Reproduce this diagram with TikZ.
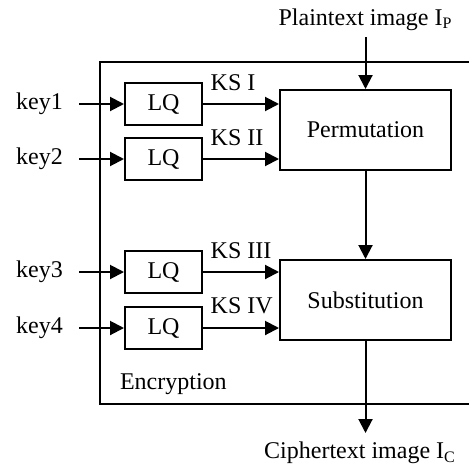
\documentclass[tikz,border=0pt]{standalone}
\usepackage{fontspec}
\setmainfont{Liberation Serif}
\usepackage{tikz}
\usetikzlibrary{positioning, arrows.meta, calc}

\begin{document}
\begin{tikzpicture}[x=0.5pt, y=-0.5pt, font=\fontsize{12}{14}\selectfont,
        blk/.style={draw, line width=1pt, minimum width=85.5pt, minimum height=40pt},
        lq/.style={draw, line width=1pt, minimum width=38.5pt, minimum height=21pt},
        keylab/.style={inner xsep=8pt},
        arr/.style={line width=1pt, -{Triangle[length=7pt, width=7pt]}}]
        \useasboundingbox (0,0) rectangle (469,465);

        % Encryption frame
        \draw[line width=1pt] (100,62) rectangle (474,404);
        \coordinate (encsw) at (100,404);
        \node[anchor=south west, xshift=6.5pt, yshift=1pt] (enclab) at (encsw) {Encryption};

        % Main blocks
        \node[blk] (perm) at (365.5,130) {Permutation};
        \node[blk] (subst) at (365.5,300) {Substitution};

        % Keys and LQ blocks
        \foreach \i/\y in {1/104, 2/159, 3/272, 4/328} {
            \node[lq] (lq\i) at (163.5,\y) {LQ};
            \node[keylab] (key\i) at (39.5,\y) {key\i};
            \draw[arr] (key\i) -- (lq\i);
        }

        % Key streams
        \foreach \i/\ks/\dst in {1/I/perm, 2/II/perm, 3/III/subst, 4/IV/subst}
            \draw[arr] (lq\i) -- (lq\i -| \dst.west)
                node[pos=0, anchor=south west, yshift=3pt] {KS \ks};

        % Input and output
        \node (plain) at (365.5,19.5) {Plaintext image I\textsubscript{P}};
        \node (cipher) at (360,453) {Ciphertext image I\textsubscript{C}};
        \coordinate (out) at (365.5,433);
        \draw[arr] (plain) -- (perm);
        \draw[arr] (perm) -- (subst);
        \draw[arr] (subst) -- (out);
    \end{tikzpicture}
\end{document}
